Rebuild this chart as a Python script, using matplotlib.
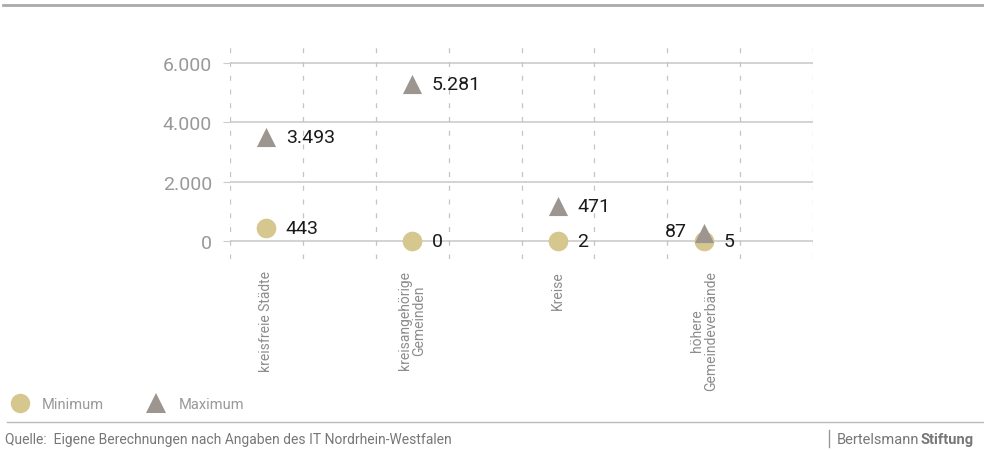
import matplotlib
matplotlib.use('Agg')
from matplotlib import pyplot as plt
from matplotlib.lines import Line2D
import matplotlib.transforms as mtransforms
import numpy as np

categories = ['kreisfreie Städte', 'kreisangehörige\nGemeinden', 'Kreise', 'höhere\nGemeindeverbände']
minimum = [443, 0, 2, 5]
maximum = [3493, 5281, 471, 87]
yticks = [0, 2000, 4000, 6000]

def fmt(v):
    return f'{v:,}'.replace(',', '.')

plt.rcParams['font.family'] = ['Roboto', 'DejaVu Sans']

c_min = '#d6c78f'
c_max = '#9c9590'
grey = '#8c8c8c'

fig = plt.figure(figsize=(9.84, 4.52), dpi=100)
ax = fig.add_axes([230 / 984, 1 - 260 / 452, 583 / 984, 215 / 452])

x = np.arange(len(categories)) * 2 + 0.5
ax.set_xlim(0, 8)
ax.set_ylim(-607, 6640)

# grid
for y in yticks:
    ax.axhline(y, color='#cccccc', lw=1.2, zorder=1)
for xv in range(9):
    ax.axvline(xv, color='#c4c4c4', lw=0.9, ls=(0, (4, 7)), zorder=1)

# maximum marker lifted a bit where it would sit on the minimum marker (as in the original)
lift = [0, 0, 15, 4]

ax.scatter(x, minimum, s=200, marker='o', color=c_min, lw=0, zorder=3)
for i, (xi, v) in enumerate(zip(x, maximum)):
    tr = mtransforms.offset_copy(ax.transData, fig=fig, x=0, y=lift[i], units='points')
    ax.scatter([xi], [v], s=190, marker='^', color=c_max, lw=0, zorder=4, transform=tr)

for xi, v in zip(x, minimum):
    ax.annotate(fmt(v), (xi, v), xytext=(14, 0), textcoords='offset points',
                va='center', ha='left', fontsize=14, color='#1a1a1a')
for i, (xi, v) in enumerate(zip(x, maximum)):
    if i == 3:
        ax.annotate(fmt(v), (xi, v), xytext=(-12, lift[i] + 1), textcoords='offset points',
                    va='center', ha='right', fontsize=14, color='#1a1a1a')
    else:
        ax.annotate(fmt(v), (xi, v), xytext=(14, lift[i]), textcoords='offset points',
                    va='center', ha='left', fontsize=14, color='#1a1a1a')

ax.set_yticks(yticks)
ax.set_yticklabels([fmt(v) for v in yticks], fontsize=14, color='#999999')
ax.tick_params(axis='y', length=5, color='#cccccc', pad=8)
ax.set_xticks(x)
ax.set_xticklabels(categories, rotation=90, fontsize=10, color=grey,
                   va='top', ha='center', linespacing=1.0)
ax.tick_params(axis='x', length=0, pad=8)
for s in ax.spines.values():
    s.set_visible(False)

# legend
handles = [Line2D([], [], marker='o', ls='', color=c_min, markersize=14, mew=0),
           Line2D([], [], marker='^', ls='', color=c_max, markersize=14, mew=0)]
fig.legend(handles, ['Minimum', 'Maximum'], loc='center left',
           bbox_to_anchor=(-0.002, 1 - 405 / 452), ncol=2, frameon=False,
           fontsize=10.5, labelcolor='#999999', handletextpad=0.9, columnspacing=3.0,
           handlelength=1.2)

# frame lines and footer
fig.add_artist(Line2D([3 / 984, 1], [1 - 6 / 452] * 2, color='#aaaaaa', lw=2))
fig.add_artist(Line2D([7 / 984, 1], [1 - 423 / 452] * 2, color='#bbbbbb', lw=1))
fig.text(5 / 984, 1 - 440 / 452, 'Quelle:  Eigene Berechnungen nach Angaben des IT Nordrhein-Westfalen',
         fontsize=10, color='#777777', va='center', ha='left')
fig.add_artist(Line2D([829 / 984] * 2, [1 - 431 / 452, 1 - 448 / 452], color='#999999', lw=1))
t = fig.text(837 / 984, 1 - 440 / 452, 'Bertelsmann', fontsize=10.5, color='#777777',
             va='center', ha='left')
fig.canvas.draw()
bb = t.get_window_extent()
fig.text((bb.x1 + 1) / 984, 1 - 440 / 452, 'Stiftung', fontsize=10.5, color='#777777',
         va='center', ha='left', fontweight='bold')

fig.savefig('out.png', dpi=100)
